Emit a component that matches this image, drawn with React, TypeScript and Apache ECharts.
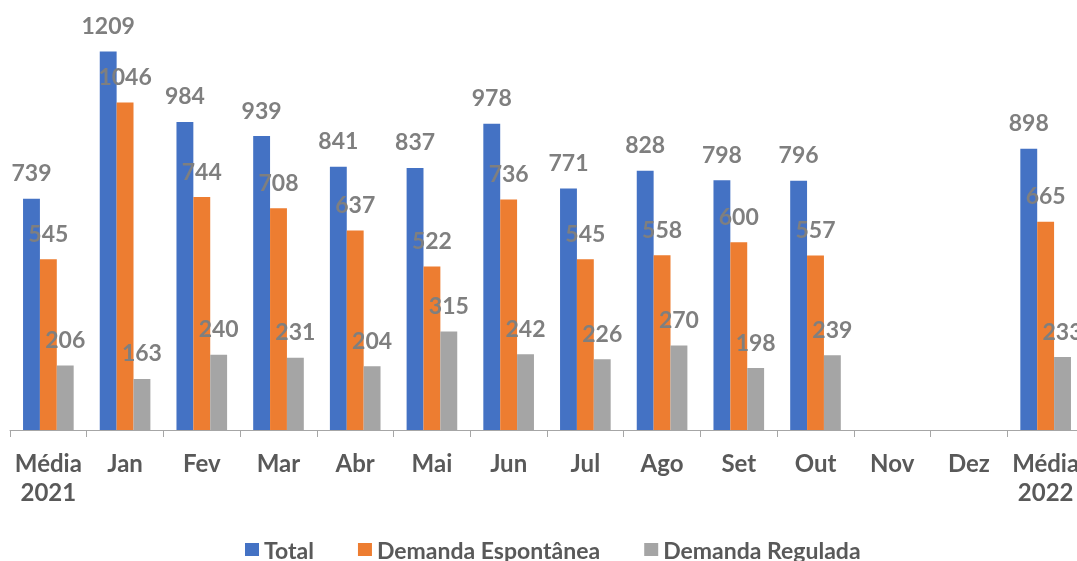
import React, { useEffect, useRef } from "react";
import * as echarts from "echarts";

const categories = ["Média\n2021", "Jan", "Fev", "Mar", "Abr", "Mai", "Jun", "Jul", "Ago", "Set", "Out", "Nov", "Dez", "Média\n2022"];
const total = [739, 1209, 984, 939, 841, 837, 978, 771, 828, 798, 796, null, null, 898];
const espontanea = [545, 1046, 744, 708, 637, 522, 736, 545, 558, 600, 557, null, null, 665];
const regulada = [206, 163, 240, 231, 204, 315, 242, 226, 270, 198, 239, null, null, 233];

const FONT = "Lato, 'Open Sans', sans-serif";

export default function App() {
  const ref = useRef<HTMLDivElement>(null);
  useEffect(() => {
    const chart = echarts.init(ref.current!, null, { renderer: "svg" });
    const label = {
      show: true,
      position: "top" as const,
      distance: 15,
      color: "#7f7f7f",
      fontSize: 23,
      fontWeight: "bold" as const,
      fontFamily: FONT,
    };
    chart.setOption({
      animation: false,
      textStyle: { fontFamily: FONT },
      grid: { left: 10, right: 6, top: 23, bottom: 131, containLabel: false },
      legend: {
        top: 533,
        left: 240,
        itemWidth: 14,
        itemHeight: 13,
        itemGap: 44,
        icon: "rect",
        textStyle: { color: "#595959", fontSize: 23, fontWeight: "bold", fontFamily: FONT },
        data: ["Total", "Demanda Espontânea", "Demanda Regulada"],
      },
      xAxis: {
        type: "category",
        data: categories,
        axisLine: { lineStyle: { color: "#a6a6a6", width: 1 } },
        axisTick: { show: true, length: 7, lineStyle: { color: "#a6a6a6" } },
        axisLabel: {
          color: "#595959",
          fontSize: 24,
          fontWeight: "bold",
          fontFamily: FONT,
          margin: 18,
          lineHeight: 29,
          interval: 0,
        },
      },
      yAxis: { type: "value", min: 0, max: 1300, show: false, splitLine: { show: false } },
      series: [
        { name: "Total", type: "bar", data: total, itemStyle: { color: "#4472C4" }, barGap: "0%", barCategoryGap: "34%", label },
        { name: "Demanda Espontânea", type: "bar", data: espontanea, itemStyle: { color: "#ED7D31" }, label },
        { name: "Demanda Regulada", type: "bar", data: regulada, itemStyle: { color: "#A5A5A5" }, label },
      ],
    });
    return () => chart.dispose();
  }, []);
  return <div ref={ref} style={{ position: "fixed", left: 0, top: 0, width: 1090, height: 561 }} />;
}
